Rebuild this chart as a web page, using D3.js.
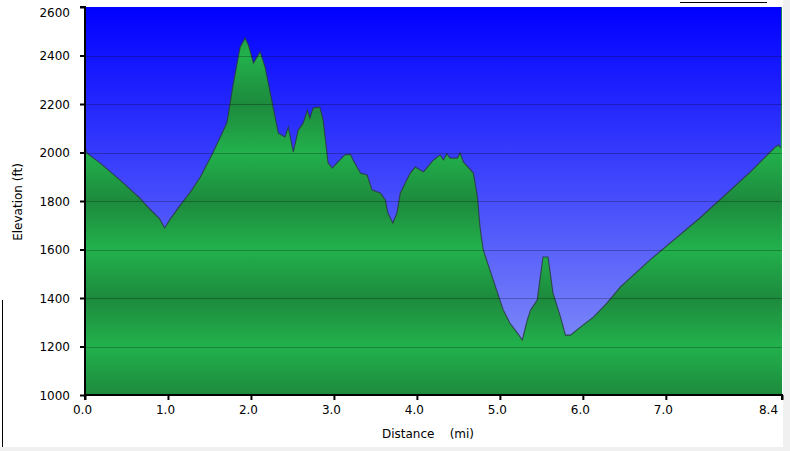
<!DOCTYPE html>
<html><head><meta charset="utf-8">
<script src="https://cdn.jsdelivr.net/npm/d3@7"></script>
<style>
html,body{margin:0;padding:0;background:#fff;}
svg{display:block;}
text{font-family:"DejaVu Sans",Verdana,sans-serif;}
</style></head>
<body>
<svg id="chart" width="790" height="451"></svg>
<script>
const distances = [0.00,0.02,0.18,0.42,0.66,0.78,0.90,0.96,1.02,1.15,1.27,1.39,1.54,1.71,1.78,1.87,1.93,1.97,2.03,2.11,2.17,2.25,2.33,2.41,2.45,2.51,2.57,2.63,2.68,2.71,2.75,2.83,2.87,2.93,2.98,3.05,3.13,3.20,3.23,3.32,3.40,3.46,3.56,3.62,3.65,3.71,3.76,3.80,3.92,3.98,4.04,4.08,4.20,4.28,4.32,4.36,4.40,4.49,4.52,4.56,4.68,4.73,4.76,4.80,4.88,5.00,5.04,5.12,5.21,5.27,5.33,5.37,5.45,5.52,5.58,5.64,5.73,5.79,5.85,5.97,6.13,6.29,6.45,6.81,7.41,8.02,8.32,8.36,8.385,8.39,8.40];
const elevations = [2023,1998,1957,1887,1812,1767,1726,1689,1722,1784,1837,1899,1998,2122,2270,2435,2472,2443,2369,2415,2353,2217,2080,2064,2105,2002,2093,2122,2175,2142,2184,2188,2134,1957,1936,1961,1990,1992,1969,1915,1907,1845,1833,1804,1751,1709,1751,1833,1915,1940,1928,1920,1969,1990,1969,1994,1977,1977,1998,1961,1915,1817,1693,1598,1515,1392,1351,1297,1256,1227,1309,1351,1392,1569,1569,1421,1322,1247,1247,1280,1322,1379,1445,1557,1730,1920,2023,2031,2019,2650,2650];
const xTicks = [0,1,2,3,4,5,6,7,8.4];
const yTicks = [1000,1200,1400,1600,1800,2000,2200,2400,2600];
const xTitle = "Distance    (mi)";
const yTitle = "Elevation (ft)";

const svg = d3.select("#chart");
const L = 85, R = 782, T = 7, B = 395;
const x = d3.scaleLinear().domain([0, 8.4]).range([L, R]);
const y = d3.scaleLinear().domain([1000, 2600]).range([B, T]);
const data = distances.map((d, i) => ({d, e: elevations[i]}));

// frame / background
svg.append("rect").attr("x", 783).attr("y", 0).attr("width", 7).attr("height", 451).attr("fill", "#f0f0f0");
svg.append("rect").attr("x", 0).attr("y", 447).attr("width", 790).attr("height", 4).attr("fill", "#f0f0f0");
svg.append("line").attr("x1", 2.5).attr("x2", 2.5).attr("y1", 300).attr("y2", 447).attr("stroke", "#000").attr("stroke-width", 1);
svg.append("line").attr("x1", 680).attr("x2", 767).attr("y1", 2.5).attr("y2", 2.5).attr("stroke", "#000").attr("stroke-width", 1);

const defs = svg.append("defs");
const sky = defs.append("linearGradient").attr("id", "sky")
  .attr("gradientUnits", "userSpaceOnUse").attr("x1", 0).attr("x2", 0).attr("y1", T).attr("y2", B);
sky.append("stop").attr("offset", 0).attr("stop-color", "#0000ff");
sky.append("stop").attr("offset", 1).attr("stop-color", "#8f9cf7");
const grass = defs.append("linearGradient").attr("id", "grass")
  .attr("gradientUnits", "userSpaceOnUse").attr("spreadMethod", "reflect")
  .attr("x1", 0).attr("x2", 0).attr("y1", y(1400)).attr("y2", y(1200));
grass.append("stop").attr("offset", 0).attr("stop-color", "#1d8a3d");
grass.append("stop").attr("offset", 1).attr("stop-color", "#22b14c");
defs.append("clipPath").attr("id", "clip").append("rect")
  .attr("x", L).attr("y", T).attr("width", R - L).attr("height", B - T);

const plot = svg.append("g").attr("clip-path", "url(#clip)");
plot.append("rect").attr("x", L).attr("y", T).attr("width", R - L).attr("height", B - T).attr("fill", "url(#sky)");
plot.append("path").datum(data)
  .attr("fill", "url(#grass)")
  .attr("d", d3.area().x(p => x(p.d)).y0(B).y1(p => y(p.e)));
plot.append("path").datum(data.slice(0, data.length - 2))
  .attr("fill", "none").attr("stroke", "#2a3a40").attr("stroke-opacity", 0.85).attr("stroke-width", 1.1)
  .attr("d", d3.line().x(p => x(p.d)).y(p => y(p.e)));

// gridlines
plot.selectAll("line.grid").data(yTicks.filter(v => v > 1000 && v < 2600)).join("line")
  .attr("class", "grid")
  .attr("x1", L).attr("x2", R).attr("y1", v => Math.round(y(v)) + 0.5).attr("y2", v => Math.round(y(v)) + 0.5)
  .attr("stroke", "#000").attr("stroke-opacity", 0.25).attr("stroke-width", 1);

// axes
const yAxis = svg.append("g").attr("transform", `translate(${L},0)`)
  .call(d3.axisLeft(y).tickValues(yTicks).tickSize(5).tickPadding(10).tickFormat(d3.format("d")));
const xAxis = svg.append("g").attr("transform", `translate(0,${B})`)
  .call(d3.axisBottom(x).tickValues(xTicks).tickSize(5).tickPadding(5).tickFormat(d3.format(".1f")));
[yAxis, xAxis].forEach(a => {
  a.select(".domain").attr("stroke", "#000").attr("stroke-width", 2);
  a.selectAll(".tick line").attr("stroke", "#000").attr("stroke-width", 2);
  a.selectAll(".tick text").attr("fill", "#000").attr("font-size", 12).attr("font-family", "DejaVu Sans, Verdana, sans-serif");
});
yAxis.select(".domain").attr("d", `M-5,${T}H0V${B}`);
xAxis.select(".domain").attr("d", `M${L},5V0H${R}V5`);
yAxis.selectAll(".tick text").attr("x", -15).attr("dy", "0.36em")
  .attr("transform", d => d === 2600 ? "translate(0,5)" : null);
xAxis.selectAll(".tick text").attr("dx", d => d === 8.4 ? -14 : -3).attr("dy", "0.76em");

svg.append("text").attr("x", 428).attr("y", 438).attr("text-anchor", "middle")
  .attr("font-size", 12).attr("fill", "#000").style("white-space", "pre").text(xTitle);
svg.append("text").attr("transform", "translate(22,202) rotate(-90)").attr("text-anchor", "middle")
  .attr("font-size", 12).attr("fill", "#000").style("white-space", "pre").text(yTitle);
</script>
</body></html>
